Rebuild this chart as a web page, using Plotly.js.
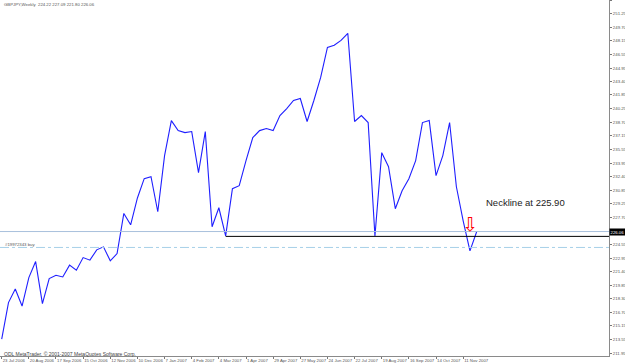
<!DOCTYPE html>
<html><head><meta charset="utf-8">
<script src="https://cdn.plot.ly/plotly-3.0.1.min.js"></script>
<style>html,body{margin:0;padding:0;background:#fff}#chart{width:625px;height:364px}</style>
</head><body><div id="chart"></div>
<script>
// Weekly bars (week start dates)
const weeks = [
 '2006-07-23','2006-07-30','2006-08-06','2006-08-13','2006-08-20','2006-08-27','2006-09-03','2006-09-10','2006-09-17','2006-09-24',
 '2006-10-01','2006-10-08','2006-10-15','2006-10-22','2006-10-29','2006-11-05','2006-11-12','2006-11-19','2006-11-26','2006-12-03',
 '2006-12-10','2006-12-17','2006-12-24','2006-12-31','2007-01-07','2007-01-14','2007-01-21','2007-01-28','2007-02-04','2007-02-11',
 '2007-02-18','2007-02-25','2007-03-04','2007-03-11','2007-03-18','2007-03-25','2007-04-01','2007-04-08','2007-04-15','2007-04-22',
 '2007-04-29','2007-05-06','2007-05-13','2007-05-20','2007-05-27','2007-06-03','2007-06-10','2007-06-17','2007-06-24','2007-07-01',
 '2007-07-08','2007-07-15','2007-07-22','2007-07-29','2007-08-05','2007-08-12','2007-08-19','2007-08-26','2007-09-02','2007-09-09',
 '2007-09-16','2007-09-23','2007-09-30','2007-10-07','2007-10-14','2007-10-21','2007-10-28','2007-11-04','2007-11-11','2007-11-18',
 '2007-11-25'];
// Weekly close, GBPJPY
const closes = [
 213.63, 217.84, 219.42, 217.45, 220.73, 222.59, 217.72, 220.62, 221.01, 220.81,
 222.17, 221.59, 223.05, 222.75, 223.94, 224.29, 222.67, 223.51, 228.15, 226.84,
 229.94, 232.17, 232.40, 228.35, 234.84, 238.89, 237.73, 237.50, 237.62, 232.87,
 237.62, 226.61, 228.81, 225.55, 231.01, 231.36, 234.26, 236.92, 237.73, 237.97,
 237.73, 239.47, 240.28, 241.21, 241.44, 238.78, 241.21, 243.88, 247.35, 247.59,
 248.16, 248.98, 238.78, 239.47, 238.66, 225.55, 235.18, 233.56, 228.70, 230.78,
 232.17, 234.26, 238.66, 238.89, 232.52, 234.84, 238.66, 231.24, 227.30, 223.83,
 226.06];
// Price-axis labels
const priceTicks = [252.80, 251.25, 249.70, 248.15, 246.55, 244.95, 243.40, 241.85, 240.25, 238.70,
 237.15, 235.55, 233.95, 232.40, 230.85, 229.25, 227.70, 226.15, 224.55, 222.95,
 221.40, 219.85, 218.30, 216.70, 215.15, 213.55, 211.95];
const tickWeeks = weeks.filter((d, i) => i % 4 === 0);

const chartTitle = 'GBPJPY,Weekly  224.22 227.09 221.80 226.06';
const copyright = 'ODL MetaTrader, \u00a9 2001-2007 MetaQuotes Software Corp.';
const bidPrice = 226.06;
const orderPrice = 224.22;
const orderLabel = '#19972343 buy';
const necklinePrice = 225.50;
const necklineStartWeek = weeks[33];
const necklineText = 'Neckline at 225.90';
const arrowWeek = weeks[69];
const arrowPrice = 226.9;
const xRange = ['2006-07-21 06:00', '2008-04-09 10:00'];
const yRange = [211.67, 252.83];

const small = {family: 'Liberation Sans, Arial, sans-serif', size: 4.3, color: '#555'};

const trace = {
  x: weeks, y: closes, type: 'scatter', mode: 'lines',
  line: {color: '#1f1fff', width: 1.1}, hoverinfo: 'skip'
};

const layout = {
  width: 625, height: 364,
  margin: {l: 0, r: 16, t: 0, b: 8, pad: 0},
  paper_bgcolor: '#ffffff', plot_bgcolor: '#ffffff',
  showlegend: false,
  xaxis: {
    type: 'date', range: xRange, showgrid: false, zeroline: false,
    showline: true, mirror: true, linecolor: '#8a8a8a', linewidth: 1,
    tickvals: tickWeeks, tickformat: '%-d %b %Y', tickangle: 0,
    ticks: 'outside', ticklen: 2, tickcolor: '#777', tickwidth: 1,
    ticklabelstandoff: 0,
    ticklabelposition: 'outside right', tickfont: small, fixedrange: true
  },
  yaxis: {
    range: yRange, side: 'right', showgrid: false, zeroline: false,
    showline: true, mirror: true, linecolor: '#8a8a8a', linewidth: 1,
    tickvals: priceTicks, ticktext: priceTicks.map(v => v.toFixed(2)),
    ticks: 'outside', ticklen: 2, tickcolor: '#777', tickwidth: 1,
    ticklabelshift: -3.5, tickfont: small, fixedrange: true
  },
  shapes: [
    {type: 'line', xref: 'paper', x0: 0, x1: 1, yref: 'y', y0: bidPrice, y1: bidPrice,
     line: {color: '#a9c0dc', width: 1}},
    {type: 'line', xref: 'paper', x0: 0, x1: 1, yref: 'y', y0: orderPrice, y1: orderPrice,
     line: {color: '#a6d0e8', width: 1, dash: 'dashdot'}},
    {type: 'line', xref: 'x', x0: necklineStartWeek, x1: xRange[1], yref: 'y', y0: necklinePrice, y1: necklinePrice,
     line: {color: '#000000', width: 1}}
  ],
  annotations: [
    {xref: 'paper', yref: 'paper', x: 0.004, y: 0.9875, xanchor: 'left', yanchor: 'middle',
     text: chartTitle, showarrow: false, font: small},
    {xref: 'paper', yref: 'y', x: 0.005, y: orderPrice, xanchor: 'left', yanchor: 'bottom', yshift: -1.5,
     text: orderLabel, showarrow: false, font: small},
    {xref: 'paper', yref: 'paper', x: 0.004, y: 0.007, xanchor: 'left', yanchor: 'middle',
     text: copyright, showarrow: false, font: {family: 'Liberation Sans, Arial, sans-serif', size: 5, color: '#444'}},
    {xref: 'paper', yref: 'y', x: 1, y: bidPrice, xanchor: 'left', yanchor: 'middle',
     text: bidPrice.toFixed(2), showarrow: false, bgcolor: '#000000', borderpad: 0.5,
     font: {family: 'Liberation Sans, Arial, sans-serif', size: 4.3, color: '#ffffff'}},
    {xref: 'paper', yref: 'y', x: 484 / 609, y: 229.42, xanchor: 'left', yanchor: 'middle',
     text: necklineText, showarrow: false,
     font: {family: 'Liberation Sans, Arial, sans-serif', size: 9.5, color: '#222'}},
    {xref: 'x', yref: 'y', x: arrowWeek, y: arrowPrice, xanchor: 'center', yanchor: 'middle',
     text: '\u21e9', showarrow: false,
     font: {family: 'DejaVu Sans, sans-serif', size: 19, color: '#ff0000'}}
  ]
};

Plotly.newPlot('chart', [trace], layout, {displayModeBar: false, staticPlot: true});
</script>
</body></html>
